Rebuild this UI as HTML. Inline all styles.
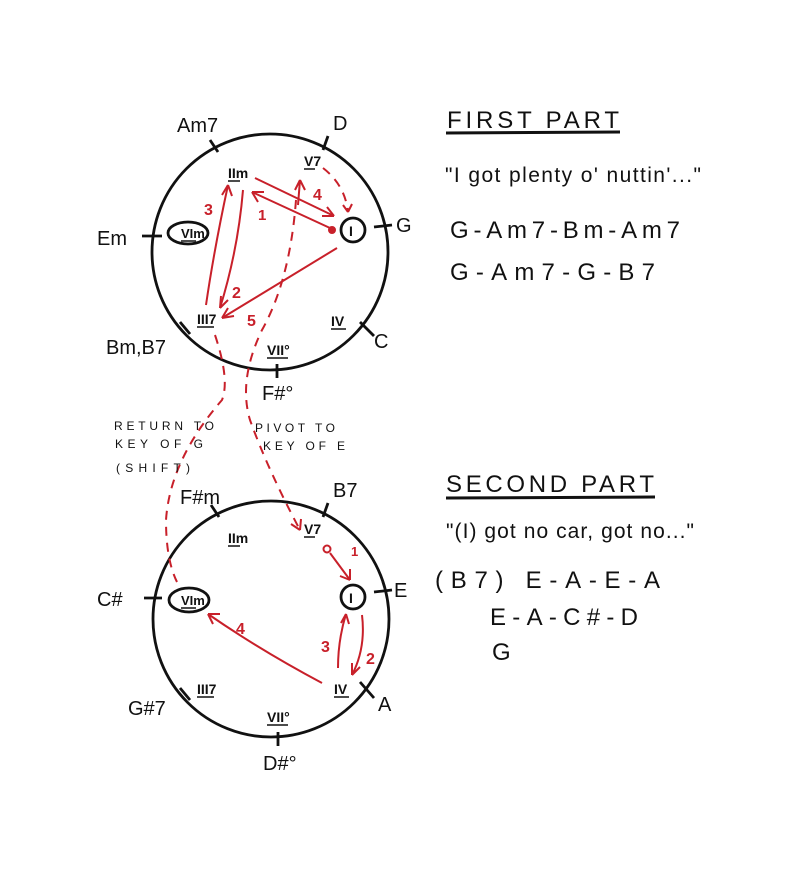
<!DOCTYPE html>
<html><head><meta charset="utf-8"><style>
html,body{margin:0;padding:0;background:#fff}
svg{display:block}
text{font-family:"Liberation Sans",sans-serif;fill:#111}
.r{fill:#c8202a}
</style></head><body>
<svg width="800" height="896" viewBox="0 0 800 896" xmlns="http://www.w3.org/2000/svg">
<g fill="none" stroke="#111" stroke-width="2.8">
<circle cx="270" cy="252" r="118"/>
<circle cx="271" cy="619" r="118"/>
<line x1="210" y1="140" x2="218" y2="152"/>
<line x1="328" y1="136" x2="323" y2="150"/>
<line x1="142" y1="236" x2="162" y2="236"/>
<line x1="374" y1="227" x2="392" y2="225"/>
<line x1="180" y1="322" x2="190" y2="334"/>
<line x1="360" y1="322" x2="374" y2="336"/>
<line x1="277" y1="364" x2="277" y2="378"/>
<line x1="211" y1="505" x2="219" y2="517"/>
<line x1="328" y1="503" x2="323" y2="517"/>
<line x1="144" y1="598" x2="162" y2="598"/>
<line x1="374" y1="592" x2="392" y2="590"/>
<line x1="180" y1="688" x2="190" y2="700"/>
<line x1="360" y1="682" x2="374" y2="698"/>
<line x1="278" y1="732" x2="278" y2="746"/>
<ellipse cx="188" cy="233" rx="20" ry="11"/>
<circle cx="353" cy="230" r="12"/>
<ellipse cx="189" cy="600" rx="20" ry="12"/>
<circle cx="353" cy="597" r="12"/>
<line x1="446" y1="133" x2="620" y2="132" stroke-width="3"/>
<line x1="446" y1="498" x2="655" y2="497" stroke-width="3"/>
</g>
<!-- numeral underlines -->
<g stroke="#111" stroke-width="1.5">
<line x1="228" y1="181" x2="240" y2="181"/>
<line x1="304" y1="169" x2="315" y2="169"/>
<line x1="181" y1="241" x2="196" y2="241"/>
<line x1="197" y1="327" x2="214" y2="327"/>
<line x1="331" y1="329" x2="346" y2="329"/>
<line x1="267" y1="358" x2="288" y2="358"/>
<line x1="228" y1="546" x2="240" y2="546"/>
<line x1="304" y1="537" x2="315" y2="537"/>
<line x1="181" y1="608" x2="196" y2="608"/>
<line x1="197" y1="697" x2="214" y2="697"/>
<line x1="334" y1="697" x2="349" y2="697"/>
<line x1="267" y1="725" x2="288" y2="725"/>
</g>
<g fill="none" stroke="#c8202a" stroke-width="2">
<path d="M330 228 L252 192"/><path d="M252 192 l12 0 M252 192 l6 10"/>
<path d="M255 178 L334 216"/><path d="M334 216 l-12 0 M334 216 l-7 -9"/>
<path d="M206 305 Q214 250 228 185"/><path d="M228 185 l-6 10 M228 185 l4 11"/>
<path d="M243 190 Q238 250 220 308"/><path d="M220 308 l1 -12 M220 308 l8 -8"/>
<path d="M337 248 L222 318"/><path d="M222 318 l12 -2 M222 318 l6 -10"/>
<path d="M300 180 l-5 10 M300 180 l5 10 M300 180 L298 205"/>
<path d="M332 230 m-3 0 a3 3 0 1 0 6 0 a3 3 0 1 0 -6 0" fill="#c8202a"/>
<g stroke-dasharray="9 7">
<path d="M323 168 Q345 185 348 212"/>
<path d="M296 200 Q290 280 262 330 Q238 380 250 420 Q268 470 300 530"/>
<path d="M215 335 Q230 380 222 400 Q170 460 166 520 Q166 560 177 582"/>
</g>
<path d="M348 212 l-5 -7 M348 212 l4 -8"/>
<path d="M300 530 l-9 -6 M300 530 l1 -11"/>
<circle cx="327" cy="549" r="3.5"/>
<path d="M330 553 L350 580"/><path d="M350 580 l-10 -4 M350 580 l0 -11"/>
<path d="M322 683 Q260 650 208 614"/><path d="M208 614 l12 0 M208 614 l5 10"/>
<path d="M338 668 Q338 640 346 614"/><path d="M346 614 l-5 9 M346 614 l3 10"/>
<path d="M362 615 Q366 648 352 675"/><path d="M352 675 l0 -12 M352 675 l8 -8"/>
</g>
<g font-size="16" font-weight="bold">
<text x="258" y="220" class="r" font-size="15">1</text>
<text x="313" y="200" class="r">4</text>
<text x="204" y="215" class="r">3</text>
<text x="232" y="298" class="r">2</text>
<text x="247" y="326" class="r">5</text>
<text x="351" y="556" class="r" font-size="13">1</text>
<text x="236" y="634" class="r">4</text>
<text x="321" y="652" class="r">3</text>
<text x="366" y="664" class="r">2</text>
</g>
<g font-size="20">
<text x="177" y="132">Am7</text>
<text x="333" y="130">D</text>
<text x="97" y="245">Em</text>
<text x="396" y="232">G</text>
<text x="106" y="354">Bm,B7</text>
<text x="374" y="348">C</text>
<text x="262" y="400">F#°</text>
<text x="180" y="504">F#m</text>
<text x="333" y="497">B7</text>
<text x="97" y="606">C#</text>
<text x="394" y="597">E</text>
<text x="128" y="715">G#7</text>
<text x="378" y="711">A</text>
<text x="263" y="770">D#°</text>
</g>
<g font-size="14" font-weight="bold">
<text x="228" y="178">IIm</text>
<text x="304" y="166">V7</text>
<text x="181" y="238" font-size="13">VIm</text>
<text x="349" y="236">I</text>
<text x="197" y="324">III7</text>
<text x="331" y="326">IV</text>
<text x="267" y="355">VII°</text>
<text x="228" y="543">IIm</text>
<text x="304" y="534">V7</text>
<text x="181" y="605" font-size="13">VIm</text>
<text x="349" y="603">I</text>
<text x="197" y="694">III7</text>
<text x="334" y="694">IV</text>
<text x="267" y="722">VII°</text>
</g>
<g font-size="12">
<text x="114" y="430" textLength="100">RETURN TO</text>
<text x="115" y="448" textLength="88">KEY OF G</text>
<text x="116" y="472" textLength="74">(SHIFT)</text>
<text x="255" y="432" textLength="80">PIVOT TO</text>
<text x="263" y="450" textLength="82">KEY OF E</text>
</g>
<g font-size="24">
<text x="447" y="128" textLength="172">FIRST PART</text>
<text x="445" y="182" font-size="21" textLength="256">"I got plenty o' nuttin'..."</text>
<text x="450" y="238" textLength="230">G-Am7-Bm-Am7</text>
<text x="450" y="280" textLength="205">G-Am7-G-B7</text>
<text x="446" y="492" textLength="208">SECOND PART</text>
<text x="446" y="538" font-size="21" textLength="248">"(I) got no car, got no..."</text>
<text x="435" y="588" textLength="225">(B7) E-A-E-A</text>
<text x="490" y="625" textLength="148">E-A-C#-D</text>
<text x="492" y="660">G</text>
</g>
</svg>
</body></html>
